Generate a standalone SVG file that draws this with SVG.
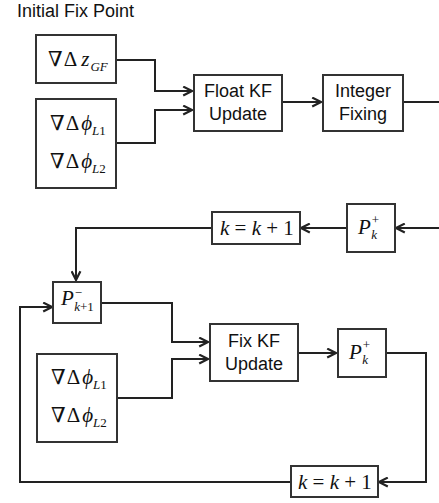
<svg xmlns="http://www.w3.org/2000/svg" width="439" height="503" viewBox="0 0 439 503">
<defs>
<marker id="arr" viewBox="0 0 10 10" refX="9" refY="5" markerWidth="11" markerHeight="11" markerUnits="userSpaceOnUse" orient="auto">
<path d="M1,1 L9,5 L1,9" fill="none" stroke="#222" stroke-width="2"/>
</marker>
<style>
.box{fill:#fff;stroke:#333;stroke-width:2}
.lbl{font-family:"Liberation Sans",Arial,sans-serif;font-size:18px;fill:#111;text-anchor:middle}
.m{font-family:"Liberation Serif","DejaVu Serif",serif;font-size:21px;fill:#111}
.i{font-style:italic}
.s{font-size:13px;font-style:italic}
.c{fill:none;stroke:#222;stroke-width:2}
</style>
</defs>
<rect width="439" height="503" fill="#fff"/>
<text x="17" y="17" font-family="Liberation Sans,Arial,sans-serif" font-size="18px" fill="#111">Initial Fix Point</text>

<g id="connectors">
<polyline class="c" points="116,60 155,60 155,91 192,91" marker-end="url(#arr)"/>
<polyline class="c" points="116,143 155,143 155,110 192,110" marker-end="url(#arr)"/>
<line class="c" x1="282" y1="102" x2="321" y2="102" marker-end="url(#arr)"/>
<line class="c" x1="403" y1="102" x2="439" y2="102"/>
<line class="c" x1="439" y1="228" x2="396" y2="228" marker-end="url(#arr)"/>
<line class="c" x1="347" y1="228" x2="301" y2="228" marker-end="url(#arr)"/>
<polyline class="c" points="212,228 76,228 76,280" marker-end="url(#arr)"/>
<polyline class="c" points="101,303 172,303 172,342 208,342" marker-end="url(#arr)"/>
<polyline class="c" points="117,398 172,398 172,359 208,359" marker-end="url(#arr)"/>
<line class="c" x1="298" y1="353" x2="336" y2="353" marker-end="url(#arr)"/>
<polyline class="c" points="386,353 426,353 426,482 379,482" marker-end="url(#arr)"/>
<polyline class="c" points="291,482 20,482 20,307 52,307" marker-end="url(#arr)"/>
</g>

<g id="zgf">
<rect class="box" x="36" y="35" width="80" height="48"/>
<text class="m" x="48" y="66">∇<tspan dx="1">Δ</tspan><tspan class="i" dx="4">z</tspan><tspan class="s" dx="1" dy="5">GF</tspan></text>
</g>
<g id="phi1">
<rect class="box" x="36" y="99" width="80" height="89"/>
<text class="m" x="50" y="130">∇<tspan dx="1">Δ</tspan><tspan class="i" dx="2">ϕ</tspan><tspan class="s" dy="5">L</tspan><tspan font-size="13px">1</tspan></text>
<text class="m" x="50" y="168">∇<tspan dx="1">Δ</tspan><tspan class="i" dx="2">ϕ</tspan><tspan class="s" dy="5">L</tspan><tspan font-size="13px">2</tspan></text>
</g>
<g id="floatkf">
<rect class="box" x="194" y="75" width="88" height="56"/>
<text class="lbl" x="238" y="97">Float KF</text>
<text class="lbl" x="238" y="120">Update</text>
</g>
<g id="intfix">
<rect class="box" x="323" y="75" width="80" height="56"/>
<text class="lbl" x="363" y="97">Integer</text>
<text class="lbl" x="363" y="120">Fixing</text>
</g>
<g id="pk1">
<rect class="box" x="347" y="204" width="48" height="48"/>
<text class="m" x="358" y="234"><tspan class="i">P</tspan><tspan font-size="13px" dx="1" dy="-10">+</tspan><tspan class="s" dx="-8" dy="15">k</tspan></text>
</g>
<g id="kk1">
<rect class="box" x="212" y="212" width="88" height="32"/>
<text class="m" x="220" y="235" font-size="22px"><tspan class="i">k</tspan> = <tspan class="i">k</tspan> + 1</text>
</g>
<g id="pkm">
<rect class="box" x="53" y="282" width="48" height="41"/>
<text class="m" x="61" y="305"><tspan class="i">P</tspan><tspan font-size="13px" dx="1" dy="-8">−</tspan><tspan class="s" dx="-8" dy="14">k</tspan><tspan font-size="13px">+1</tspan></text>
</g>
<g id="fixkf">
<rect class="box" x="210" y="324" width="88" height="57"/>
<text class="lbl" x="254" y="347">Fix KF</text>
<text class="lbl" x="254" y="370">Update</text>
</g>
<g id="phi2">
<rect class="box" x="37" y="354" width="80" height="88"/>
<text class="m" x="51" y="384">∇<tspan dx="1">Δ</tspan><tspan class="i" dx="2">ϕ</tspan><tspan class="s" dy="5">L</tspan><tspan font-size="13px">1</tspan></text>
<text class="m" x="51" y="422">∇<tspan dx="1">Δ</tspan><tspan class="i" dx="2">ϕ</tspan><tspan class="s" dy="5">L</tspan><tspan font-size="13px">2</tspan></text>
</g>
<g id="pk2">
<rect class="box" x="338" y="329" width="48" height="48"/>
<text class="m" x="349" y="359"><tspan class="i">P</tspan><tspan font-size="13px" dx="1" dy="-10">+</tspan><tspan class="s" dx="-8" dy="15">k</tspan></text>
</g>
<g id="kk2">
<rect class="box" x="291" y="466" width="87" height="31"/>
<text class="m" x="298" y="489" font-size="22px"><tspan class="i">k</tspan> = <tspan class="i">k</tspan> + 1</text>
</g>
</svg>
